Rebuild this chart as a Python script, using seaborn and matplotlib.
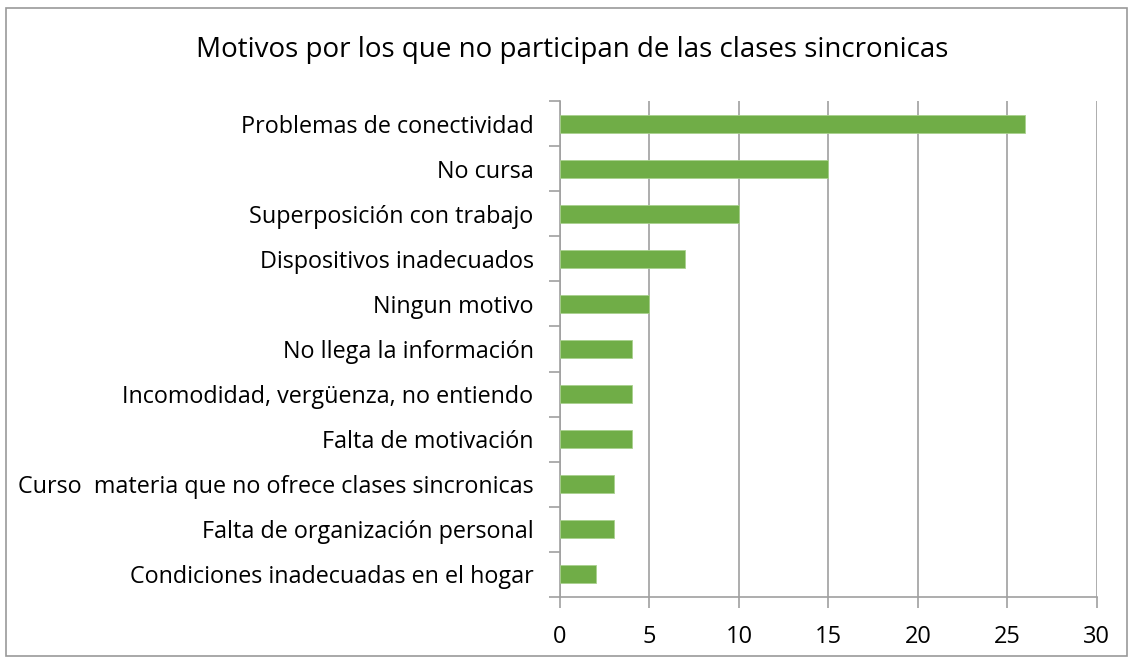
import matplotlib
matplotlib.use("Agg")
import matplotlib.pyplot as plt
import seaborn as sns
import pandas as pd

motivos = [
    "Problemas de conectividad",
    "No cursa",
    "Superposición con trabajo",
    "Dispositivos inadecuados",
    "Ningun motivo",
    "No llega la información",
    "Incomodidad, vergüenza, no entiendo",
    "Falta de motivación",
    "Curso  materia que no ofrece clases sincronicas",
    "Falta de organización personal",
    "Condiciones inadecuadas en el hogar",
]
cantidad = [26, 15, 10, 7, 5, 4, 4, 4, 3, 3, 2]
xticks = [0, 5, 10, 15, 20, 25, 30]

df = pd.DataFrame({"motivo": motivos, "cantidad": cantidad})

sns.set_style("white")
plt.rcParams["font.family"] = ["Open Sans", "DejaVu Sans"]
plt.rcParams["text.color"] = "black"
plt.rcParams["xtick.color"] = "black"
plt.rcParams["ytick.color"] = "black"

fig = plt.figure(figsize=(11.29, 6.58), dpi=100)
ax = fig.add_axes([0.496, 0.0927, 0.4755, 0.7538])

sns.barplot(data=df, x="cantidad", y="motivo", color="#70AD47",
            width=0.4, saturation=1, ax=ax, zorder=3, edgecolor="#A9D18E",
            linewidth=0.6)

ax.set_xlim(0, 30)
ax.set_xticks(xticks)
ax.set_ylim(len(motivos) - 0.5, -0.5)
ax.xaxis.grid(True, color="#A0A0A0", linewidth=1.2, zorder=0)
ax.set_axisbelow(True)
ax.set_xlabel("")
ax.set_ylabel("")

for s in ["top", "right"]:
    ax.spines[s].set_visible(False)
for s in ["left", "bottom"]:
    ax.spines[s].set_color("#A0A0A0")
    ax.spines[s].set_linewidth(1.2)

# ticks: x at gridlines, y at category boundaries
ax.tick_params(axis="x", bottom=True, length=8, width=1.2, color="#A0A0A0",
               labelsize=17, pad=12, labelcolor="black")
ax.set_yticks(range(len(motivos)))
ax.set_yticklabels(motivos)
ax.tick_params(axis="y", left=True, length=0, labelsize=16.8, pad=19,
               labelcolor="black")
ax.set_yticks([i - 0.5 for i in range(len(motivos) + 1)], minor=True)
ax.tick_params(axis="y", which="minor", left=True, length=8, width=1.2,
               color="#A0A0A0")

fig.text(0.507, 0.924, "Motivos por los que no participan de las clases sincronicas",
         ha="center", va="center", fontsize=20, color="black")

border = plt.Rectangle((0.005, 0.003), 0.993, 0.985, transform=fig.transFigure,
                       fill=False, edgecolor="#999999", linewidth=1.2)
fig.patches.append(border)

fig.savefig("out.png", dpi=100)
